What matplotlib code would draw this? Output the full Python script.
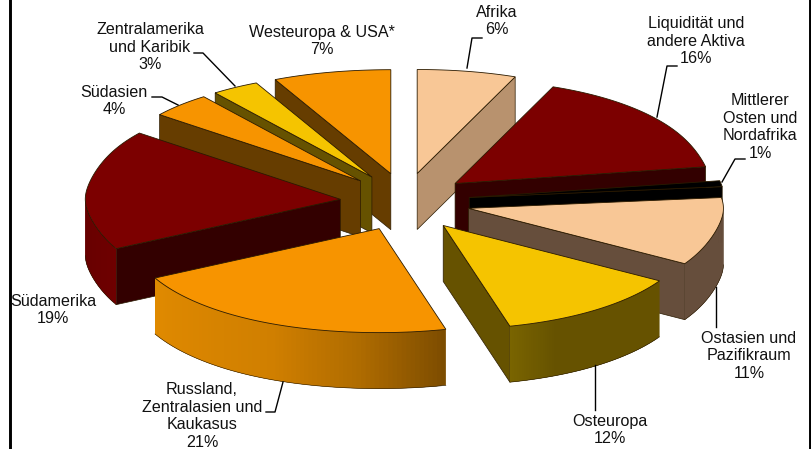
import numpy as np
import matplotlib
matplotlib.use('Agg')
import matplotlib.pyplot as plt
from matplotlib.collections import PolyCollection
from matplotlib.colors import to_rgb

plt.rcParams['font.family'] = ['Liberation Sans', 'DejaVu Sans']

# shares in percent, clockwise from 12 o'clock
categories = ['Afrika', 'Liquidität und\nandere Aktiva', 'Mittlerer\nOsten und\nNordafrika',
              'Ostasien und\nPazifikraum', 'Osteuropa', 'Russland,\nZentralasien und\nKaukasus',
              'Südamerika', 'Südasien', 'Zentralamerika\nund Karibik', 'Westeuropa & USA*']
values = [6, 16, 1, 11, 12, 21, 19, 4, 3, 7]

top_colors = ['#F8C796', '#7C0000', '#000000', '#F8C796', '#F5C400',
              '#F79400', '#7C0000', '#F79400', '#F5C400', '#F79400']
side_colors = ['#B8926E', '#330000', '#000000', '#664E3C', '#665200',
               '#F79400', '#330000', '#663D00', '#665200', '#663D00']
# rim colours, from the start angle of the slice to its end angle
rim_colors = [['#B8926E'], ['#330000'], ['#000000'], ['#664E3C', '#664E3C'],
              ['#665200', '#665200', '#665200', '#665200', '#7A6400'],
              ['#7C4C00', '#B06C00', '#D07F00', '#D88400', '#E08A00'],
              ['#6E0000', '#5A0000'], ['#663D00'], ['#665200'], ['#663D00']]

# label centre in pixels, then the leader line
label_pos = [(497, 21), (696, 41), (760, 127), (749, 356), (610, 430),
             (202, 416), (53, 310), (114, 101), (150, 47), (322, 41)]
leaders = [[(467, 68), (472, 38), (482, 38)],
           [(657, 117), (667, 66), (677, 66)],
           [(722, 182), (735, 159), (745, 159)],
           [(716, 287), (716, 327)],
           [(595, 365), (595, 410)],
           [(283, 382), (275, 412), (266, 412)],
           None,
           [(178, 105), (162, 97), (152, 97)],
           [(235, 86), (203, 53), (194, 53)],
           None]

cx, cy = 405, 202
B = 104
depth = 56
shift_x, shift_y = 65, 29


def rim_point(apex, deg):
    # the pie is not a clean ellipse in the original, so bend it a little
    t = np.radians(deg)
    s, c = np.sin(t), np.cos(t)
    a = 255 + 15 * c ** 4
    if s < 0 and c > 0:
        a += 8 * c ** 2
    b = B * (1 - 0.2 * s ** 20)
    return apex[0] + a * s, apex[1] - b * c


def down(p):
    return p[0], p[1] + depth


fig = plt.figure(figsize=(8.11, 4.49), dpi=100)
ax = fig.add_axes([0, 0, 1, 1])
ax.set_xlim(0, 811)
ax.set_ylim(449, 0)
ax.axis('off')

edges = np.cumsum([0] + values) * 3.6
mids = (edges[:-1] + edges[1:]) / 2
order = np.argsort(-np.cos(np.radians(mids)))
edge_col = '#2A1A00'

for i in order:
    t1, t2 = edges[i], edges[i + 1]
    m = np.radians(mids[i])
    apex = (cx + shift_x * np.sin(m), cy - shift_y * np.cos(m))
    z = 2 + 0.1 * list(order).index(i)

    # flat side faces
    for deg, visible in [(t1, np.sin(np.radians(t1)) < 0), (t2, np.sin(np.radians(t2)) > 0)]:
        if visible:
            p = rim_point(apex, deg)
            ax.fill([apex[0], p[0], p[0], apex[0]], [apex[1], p[1], p[1] + depth, apex[1] + depth],
                    facecolor=side_colors[i], edgecolor=edge_col, linewidth=0.5, zorder=z)

    # curved rim, only the part that faces the viewer
    degs = np.linspace(t1, t2, 80)
    step = degs[1] - degs[0]
    stops = [to_rgb(c) for c in rim_colors[i]]
    pos = np.linspace(0, 1, len(stops)) if len(stops) > 1 else [0]
    polys, cols = [], []
    for d0, d1 in zip(degs[:-1], degs[1:]):
        if np.cos(np.radians((d0 + d1) / 2)) >= 0:
            continue
        # overlap the next strip so no seams show
        p0, p1 = rim_point(apex, d0), rim_point(apex, min(d1 + 2 * step, t2))
        polys.append([p0, p1, down(p1), down(p0)])
        f = ((d0 + d1) / 2 - t1) / (t2 - t1)
        cols.append([np.interp(f, pos, [s[k] for s in stops]) for k in range(3)])
    if polys:
        ax.add_collection(PolyCollection(polys, facecolors=cols, edgecolors='none',
                                         zorder=z + 0.01))
        low = np.array([down(q) for q in [rim_point(apex, d) for d in degs
                                          if np.cos(np.radians(d)) <= 0]])
        ax.plot(low[:, 0], low[:, 1], color=edge_col, lw=0.4, zorder=z + 0.02)

    # top face
    arc = np.array([rim_point(apex, d) for d in degs])
    xs = np.r_[apex[0], arc[:, 0]]
    ys = np.r_[apex[1], arc[:, 1]]
    ax.fill(xs, ys, facecolor=top_colors[i], edgecolor=edge_col, linewidth=0.6,
            joinstyle='miter', zorder=z + 0.03)

for name, val, pos_, line in zip(categories, values, label_pos, leaders):
    ax.text(pos_[0], pos_[1], '%s\n%d%%' % (name, val), ha='center', va='center',
            fontsize=11.6, linespacing=1.2, color='#111111', zorder=10)
    if line:
        ax.plot([q[0] for q in line], [q[1] for q in line], color='black', lw=1.0, zorder=9)

# chart frame, cut by the crop of the picture
ax.plot([9.7, 9.7], [0, 449], color='black', lw=2.1, zorder=1)
ax.plot([809.5, 809.5], [0, 449], color='black', lw=2.1, zorder=1)

fig.savefig('out.png', dpi=100)
